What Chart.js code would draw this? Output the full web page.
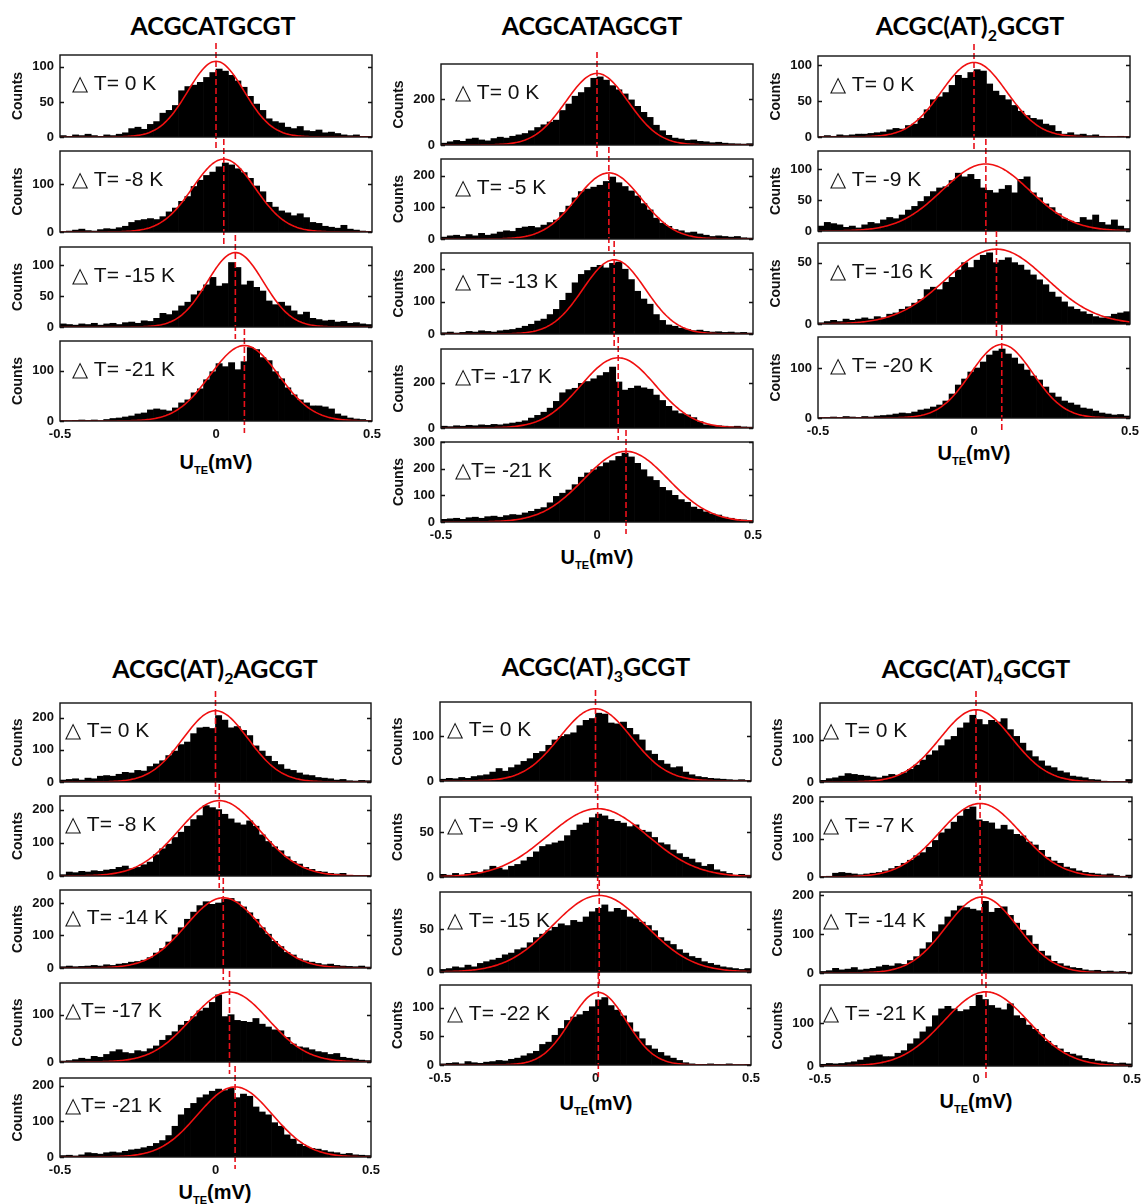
<!DOCTYPE html>
<html>
<head>
<meta charset="utf-8">
<script src="https://cdn.jsdelivr.net/npm/chart.js@4.4.0/dist/chart.umd.min.js"></script>
<style>
body { margin: 0; background: #fff; }
#fig { position: relative; width: 1143px; height: 1204px; overflow: hidden; background: #fff; font-family: "Liberation Sans", Arial, sans-serif; color: #000; }
#fig canvas { position: absolute; }
.title { position: absolute; transform: translate(-50%, -50%); font-family: Lato, "Open Sans", sans-serif; font-weight: 700; font-size: 25px; white-space: nowrap; line-height: 1; }
.title sub { font-size: 16px; vertical-align: -6px; line-height: 0; }
.xlab { position: absolute; transform: translate(-50%, -50%); font-weight: 700; font-size: 20px; white-space: nowrap; line-height: 1; }
.xlab sub { font-size: 11px; vertical-align: -5px; line-height: 0; }
</style>
</head>
<body>
<div id="fig"></div>
<script>
// histogram bin centres (mV) and axis ticks
const binCenters = [-0.49,-0.47,-0.45,-0.43,-0.41,-0.39,-0.37,-0.35,-0.33,-0.31,-0.29,-0.27,-0.25,-0.23,-0.21,-0.19,-0.17,-0.15,-0.13,-0.11,-0.09,-0.07,-0.05,-0.03,-0.01,0.01,0.03,0.05,0.07,0.09,0.11,0.13,0.15,0.17,0.19,0.21,0.23,0.25,0.27,0.29,0.31,0.33,0.35,0.37,0.39,0.41,0.43,0.45,0.47,0.49];
const xTickValues = [-0.5, 0, 0.5];

// ACGCATGCGT
const g1Labels = ['△ T= 0 K', '△ T= -8 K', '△ T= -15 K', '△ T= -21 K'];
const g1YMax = [117, 169, 129, 159];
const g1YTicks = [[0, 50, 100], [0, 100], [0, 50, 100], [0, 100]];
const g1Fit = [[108, 0, 0.09], [152, 0.025, 0.10], [120, 0.062, 0.09], [150, 0.091, 0.11]]; // amplitude, centre, width
const g1Counts = [
  [2,1,3,2,4,2,1,3,2,4,6,12,14,11,18,22,34,38,45,66,72,74,78,85,92,97,94,88,80,71,58,47,38,26,22,20,14,12,15,9,8,10,6,7,5,3,2,3,1,1],
  [0,2,4,6,3,2,5,7,6,9,12,20,24,26,28,26,32,42,50,64,74,95,108,118,125,136,144,140,132,124,112,96,84,62,52,44,40,34,38,30,20,18,12,10,8,14,6,4,2,1],
  [5,4,3,5,4,6,3,5,6,4,7,8,6,10,9,14,22,20,26,34,40,52,58,68,80,66,70,104,96,68,74,64,58,42,36,40,34,26,20,24,14,12,10,11,8,9,6,7,5,4],
  [0,0,1,2,1,2,0,3,5,6,8,10,14,16,22,24,22,20,26,36,42,56,64,82,98,114,108,116,102,118,146,142,126,120,98,84,66,52,42,36,30,30,28,24,14,10,6,4,3,1]
];

// ACGCATAGCGT
const g2Labels = ['△ T= 0 K', '△ T= -5 K', '△ T= -13 K', '△T= -17 K', '△T= -21 K'];
const g2YMax = [352, 253, 250, 350, 300];
const g2YTicks = [[0, 200], [0, 100, 200], [0, 100, 200], [0, 200], [0, 100, 200, 300]];
const g2Fit = [[311, 0, 0.10], [209, 0.038, 0.105], [229, 0.055, 0.10], [311, 0.068, 0.12], [265, 0.093, 0.135]];
const g2Counts = [
  [8,14,20,16,26,30,22,18,28,34,30,38,44,50,62,76,88,100,108,150,178,212,228,250,290,296,282,258,240,222,196,168,142,120,86,62,42,30,26,20,22,16,14,10,12,8,6,5,4,6],
  [6,10,12,8,14,10,18,12,16,22,26,24,34,38,40,36,44,52,60,84,104,130,150,158,164,170,182,196,178,166,152,136,112,92,66,50,40,30,26,20,22,16,12,8,10,8,6,8,4,3],
  [4,6,3,5,8,6,10,8,6,10,12,14,18,24,30,40,46,60,76,104,126,158,184,196,206,212,204,218,222,200,168,132,108,92,60,42,28,24,18,14,10,12,8,6,7,5,6,4,5,3],
  [8,6,10,8,12,10,14,12,16,14,18,22,26,32,44,56,70,88,118,156,170,176,198,206,218,232,246,270,204,168,176,186,178,172,146,122,96,76,64,58,46,28,14,12,10,8,6,8,5,4],
  [10,12,14,10,16,18,14,20,22,18,24,28,26,34,40,48,54,72,96,108,120,140,168,184,196,208,222,230,246,258,244,220,196,170,156,130,118,100,84,74,56,48,38,30,26,18,14,10,8,6]
];

// ACGC(AT)2GCGT
const g3Labels = ['△ T= 0 K', '△ T= -9 K', '△ T= -16 K', '△ T= -20 K'];
const g3YMax = [113, 130, 66, 162];
const g3YTicks = [[0, 50, 100], [0, 50, 100], [0, 50], [0, 100]];
const g3Fit = [[104, 0, 0.105], [109, 0.038, 0.14], [61, 0.072, 0.16], [147, 0.089, 0.10]];
const g3Counts = [
  [0,2,1,3,2,3,4,4,5,6,7,10,12,11,16,18,26,38,52,56,62,72,86,82,90,94,92,74,64,58,52,44,36,30,26,24,18,16,8,4,6,3,4,2,3,1,0,0,1,0],
  [8,14,12,10,6,8,5,10,14,12,18,22,20,26,34,40,48,56,64,70,72,82,94,88,92,84,70,66,62,68,74,62,84,88,62,54,44,38,28,20,16,14,22,18,26,14,10,18,8,4],
  [1,2,3,2,4,3,4,5,4,6,5,8,9,12,14,17,20,28,30,28,34,38,44,50,46,52,56,58,50,52,54,50,48,44,40,36,32,26,22,18,14,12,10,8,6,5,6,8,9,10],
  [0,1,2,1,3,2,1,3,2,4,5,6,8,10,9,12,16,18,22,26,34,48,66,78,92,100,112,126,134,138,128,120,108,96,84,76,62,50,42,34,30,26,20,18,14,10,8,6,7,4]
];

// ACGC(AT)2AGCGT
const g4Labels = ['△ T= 0 K', '△ T= -8 K', '△ T= -14 K', '△T= -17 K', '△T= -21 K'];
const g4YMax = [245, 241, 240, 167, 221];
const g4YTicks = [[0, 100, 200], [0, 100, 200], [0, 100, 200], [0, 100], [0, 100, 200]];
const g4Fit = [[221, 0, 0.105], [227, 0.012, 0.13], [216, 0.025, 0.12], [148, 0.045, 0.125], [196, 0.063, 0.12]];
const g4Counts = [
  [6,8,10,6,12,10,18,20,18,24,30,28,36,34,48,56,66,82,96,116,124,150,168,170,166,206,192,168,172,160,144,112,96,80,64,54,40,36,28,22,20,14,12,10,6,8,4,3,5,4],
  [4,12,10,14,12,16,14,18,20,26,30,22,26,34,42,64,82,96,116,132,150,170,182,212,206,200,186,172,160,154,166,150,124,104,88,76,58,44,36,26,20,14,12,8,6,8,2,0,1,0],
  [4,6,4,5,6,8,6,10,8,12,14,18,20,24,32,46,60,80,102,124,150,172,192,204,196,200,212,214,204,188,170,150,124,104,82,66,48,40,28,22,18,14,10,12,8,6,5,4,6,3],
  [2,3,5,8,6,12,10,16,22,26,20,18,24,22,28,34,46,56,64,78,86,96,108,114,126,142,96,100,88,86,84,92,80,74,68,66,52,38,32,30,26,22,20,16,18,10,8,6,4,3],
  [4,5,3,6,12,10,8,12,14,12,16,20,22,26,30,38,46,60,86,118,136,150,166,174,184,190,186,192,166,176,170,140,126,118,96,86,62,50,36,30,24,22,18,14,12,8,10,6,5,4]
];

// ACGC(AT)3GCGT
const g5Labels = ['△ T= 0 K', '△ T= -9 K', '△ T= -15 K', '△ T= -22 K'];
const g5YMax = [177, 89, 93, 140];
const g5YTicks = [[0, 100], [0, 50], [0, 50], [0, 50, 100]];
const g5Fit = [[162, 0, 0.115], [76, 0.007, 0.16], [89, 0.012, 0.15], [127, 0.009, 0.09]];
const g5Counts = [
  [4,6,5,8,6,10,12,14,20,28,22,30,36,44,50,62,66,80,92,100,104,108,124,136,140,152,150,130,128,132,118,104,92,68,60,46,38,30,32,20,14,10,8,6,5,4,3,2,3,1],
  [3,2,4,2,4,6,5,8,12,10,8,12,14,18,22,28,34,36,38,40,46,52,58,60,66,70,68,64,62,60,56,58,52,50,44,38,36,30,26,22,20,16,12,14,8,6,4,2,3,2],
  [3,4,6,5,8,6,10,12,14,16,20,22,26,28,34,40,44,48,52,56,54,60,58,64,70,74,78,70,74,72,64,62,58,54,48,40,36,32,26,22,18,16,12,10,8,6,5,4,3,4],
  [2,3,4,2,6,4,3,5,6,8,7,10,12,16,20,24,36,40,52,64,78,84,88,94,102,114,118,104,96,86,74,58,46,34,28,22,16,12,8,4,2,1,1,2,1,0,2,0,0,1]
];

// ACGC(AT)4GCGT
const g6Labels = ['△ T= 0 K', '△ T= -7 K', '△ T= -14 K', '△ T= -21 K'];
const g6YMax = [187, 210, 208, 190];
const g6YTicks = [[0, 100], [0, 100, 200], [0, 100, 200], [0, 100]];
const g6Fit = [[171, 0, 0.115], [193, 0.013, 0.13], [195, 0.019, 0.115], [174, 0.032, 0.135]];
const g6Counts = [
  [4,8,10,14,20,18,16,14,12,10,14,18,16,22,30,40,52,64,74,86,100,108,128,140,158,148,136,146,142,150,124,108,92,74,60,50,38,34,26,22,14,12,10,6,5,2,0,1,0,6],
  [0,2,10,12,10,8,6,8,10,12,16,22,28,36,44,56,64,78,96,116,126,144,160,178,184,150,146,142,126,136,124,112,108,92,84,70,52,42,36,26,22,16,12,10,8,6,8,4,2,5],
  [4,6,12,8,10,14,8,10,12,16,20,18,24,22,32,42,62,78,106,124,144,160,172,168,164,160,184,156,166,170,148,128,110,96,74,56,44,30,24,18,14,12,8,6,7,4,5,3,4,2],
  [4,6,5,6,8,10,14,20,24,26,22,22,30,36,52,64,80,92,118,134,140,134,128,132,140,166,156,142,136,132,146,118,112,96,86,74,58,48,40,32,28,24,18,16,12,10,8,6,7,5]
];

const FONT = '"Liberation Sans", Arial, Helvetica, sans-serif';
Chart.defaults.font.family = FONT;
const fig = document.getElementById('fig');

// panel frames in page pixels
const groups = [
  { title: 'ACGCATGCGT', tx: 213, ty: 25, left: 60, right: 372, tops: [55, 151, 247, 341], bottoms: [137, 232, 327, 421], xlx: 216, xly: 462, dx: 12,
    labels: g1Labels, yMax: g1YMax, yTicks: g1YTicks, fits: g1Fit, counts: g1Counts },
  { title: 'ACGCATAGCGT', tx: 592, ty: 25, left: 441, right: 753, tops: [64, 159, 253, 349, 442], bottoms: [145, 239, 334, 428, 522], xlx: 597, xly: 557, dx: 14,
    labels: g2Labels, yMax: g2YMax, yTicks: g2YTicks, fits: g2Fit, counts: g2Counts },
  { title: 'ACGC(AT)<sub>2</sub>GCGT', tx: 970, ty: 25, left: 818, right: 1130, tops: [56, 151, 243, 337], bottoms: [137, 231, 324, 418], xlx: 974, xly: 453, dx: 12,
    labels: g3Labels, yMax: g3YMax, yTicks: g3YTicks, fits: g3Fit, counts: g3Counts },
  { title: 'ACGC(AT)<sub>2</sub>AGCGT', tx: 215, ty: 668, left: 60, right: 371, tops: [703, 796, 890, 983, 1078], bottoms: [782, 876, 968, 1062, 1157], xlx: 215, xly: 1192, dx: 5,
    labels: g4Labels, yMax: g4YMax, yTicks: g4YTicks, fits: g4Fit, counts: g4Counts },
  { title: 'ACGC(AT)<sub>3</sub>GCGT', tx: 596, ty: 666, left: 440, right: 751, tops: [702, 797, 892, 985], bottoms: [781, 877, 972, 1065], xlx: 596, xly: 1103, dx: 7,
    labels: g5Labels, yMax: g5YMax, yTicks: g5YTicks, fits: g5Fit, counts: g5Counts },
  { title: 'ACGC(AT)<sub>4</sub>GCGT', tx: 976, ty: 668, left: 820, right: 1132, tops: [703, 797, 892, 985], bottoms: [782, 877, 973, 1066], xlx: 976, xly: 1101, dx: 3,
    labels: g6Labels, yMax: g6YMax, yTicks: g6YTicks, fits: g6Fit, counts: g6Counts }
];

// frame, inward ticks, dashed centre line and dT label
const panelDecor = {
  id: 'panelDecor',
  afterDatasetsDraw(chart, args, opts) {
    const { ctx, chartArea: a, scales: { x, y } } = chart;
    ctx.save();
    const px = x.getPixelForValue(opts.mu);
    ctx.strokeStyle = '#e8101a';
    ctx.lineWidth = 1.6;
    ctx.setLineDash([6, 3]);
    ctx.beginPath();
    ctx.moveTo(px, a.top - 12);
    ctx.lineTo(px, a.bottom + 12);
    ctx.stroke();
    ctx.setLineDash([]);
    ctx.strokeStyle = '#111';
    ctx.lineWidth = 1.4;
    ctx.strokeRect(a.left, a.top, a.width, a.height);
    ctx.beginPath();
    opts.yticks.forEach(v => {
      const py = Math.round(y.getPixelForValue(v)) + 0.5;
      ctx.moveTo(a.left, py); ctx.lineTo(a.left + 4, py);
      ctx.moveTo(a.right, py); ctx.lineTo(a.right - 4, py);
    });
    ctx.stroke();
    ctx.fillStyle = '#111';
    ctx.font = '21px ' + FONT;
    ctx.textBaseline = 'middle';
    ctx.fillText(opts.label, a.left + opts.dx, a.top + a.height * 0.36);
    ctx.restore();
  }
};

function gaussPoints(fit) {
  const [amp, mu, s] = fit;
  const pts = [];
  for (let k = 0; k <= 200; k++) {
    const x = -0.5 + k * 0.005;
    pts.push({ x: x, y: amp * Math.exp(-((x - mu) * (x - mu)) / (2 * s * s)) });
  }
  return pts;
}

const L = 56, T = 16, R = 16, B = 16, XH = 24;

function makePanel(g, i) {
  const last = i === g.counts.length - 1;
  const w = g.right - g.left, h = g.bottoms[i] - g.tops[i];
  const cw = L + w + R, ch = T + h + (last ? XH : B);
  const cv = document.createElement('canvas');
  cv.width = cw; cv.height = ch;
  cv.style.left = (g.left - L) + 'px';
  cv.style.top = (g.tops[i] - T) + 'px';
  cv.style.width = cw + 'px';
  cv.style.height = ch + 'px';
  fig.appendChild(cv);

  const yt = g.yTicks[i];
  new Chart(cv, {
    type: 'bar',
    data: {
      datasets: [
        { type: 'line', data: gaussPoints(g.fits[i]), borderColor: '#f01010', borderWidth: 1.6, pointRadius: 0, tension: 0, fill: false, order: 0 },
        { type: 'bar', data: binCenters.map((c, k) => ({ x: c, y: g.counts[i][k] })), backgroundColor: '#000', borderWidth: 0,
          barPercentage: 1, categoryPercentage: 1, grouped: false, order: 1 }
      ]
    },
    options: {
      responsive: false, animation: false, devicePixelRatio: 1,
      layout: { padding: { top: T, right: R, bottom: last ? 0 : B, left: 0 } },
      plugins: {
        legend: { display: false }, tooltip: { enabled: false },
        panelDecor: { mu: g.fits[i][1], yticks: yt, label: g.labels[i], dx: g.dx }
      },
      scales: {
        x: {
          type: 'linear', min: -0.5, max: 0.5, offset: false, display: last,
          afterBuildTicks: s => { s.ticks = xTickValues.map(v => ({ value: v })); },
          afterFit: s => { s.height = last ? XH : 0; },
          grid: { display: false, drawTicks: false }, border: { display: false },
          ticks: { padding: 6, color: '#111', autoSkip: false, maxRotation: 0, font: { weight: 'bold', size: 13 }, callback: v => String(v) }
        },
        y: {
          min: 0, max: g.yMax[i],
          afterBuildTicks: s => { s.ticks = yt.map(v => ({ value: v })); },
          afterFit: s => { s.width = L; },
          grid: { display: false, drawTicks: false }, border: { display: false },
          ticks: { padding: 6, color: '#111', autoSkip: false, font: { weight: 'bold', size: 13 } },
          title: { display: true, text: 'Counts', color: '#111', font: { weight: 'bold', size: 14 }, padding: { top: 6, bottom: 0 } }
        }
      }
    },
    plugins: [panelDecor]
  });
}

groups.forEach(g => {
  const t = document.createElement('div');
  t.className = 'title';
  t.style.left = g.tx + 'px'; t.style.top = g.ty + 'px';
  t.innerHTML = g.title;
  fig.appendChild(t);
  const xl = document.createElement('div');
  xl.className = 'xlab';
  xl.style.left = g.xlx + 'px'; xl.style.top = g.xly + 'px';
  xl.innerHTML = 'U<sub>TE</sub>(mV)';
  fig.appendChild(xl);
  g.counts.forEach((c, i) => makePanel(g, i));
});
</script>
</body>
</html>
